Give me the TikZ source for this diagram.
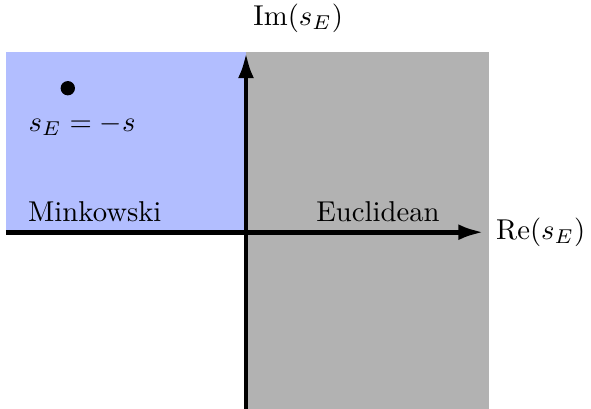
\documentclass[tikz,border=0pt]{standalone}
\usepackage{amsmath, amssymb, tikz}
\usetikzlibrary{positioning, arrows.meta}

\definecolor{minkblue}{RGB}{178,190,255}
\definecolor{euclgray}{RGB}{178,178,178}

\begin{document}
\begin{tikzpicture}[x=0.735cm, y=0.735cm,
    axis/.style={line width=1.7pt, -{Latex[length=9pt,width=5.5pt]}}]
    \useasboundingbox (-4.1,-2.93) rectangle (5.75,3.87);

    % Regions
    \fill[minkblue] (-4,0) rectangle (0,3);
    \fill[euclgray] (0,-3) rectangle (4.05,3);

    % Axes
    \coordinate (xstart) at (-4,0);
    \coordinate (xend) at (3.97,0);
    \coordinate (ystart) at (0,-3);
    \coordinate (yend) at (0,3);
    \draw[axis] (xstart) -- (xend) node[right] (relabel) {$\mathrm{Re}(s_E)$};
    \draw[axis] (ystart) -- (yend);
    \node (imlabel) at (0.87,3.57) {$\mathrm{Im}(s_E)$};

    % Point and region labels
    \node[circle, fill=black, inner sep=0pt, minimum size=5pt] (pt) at (-2.97,2.4) {};
    \node[below=3pt of pt, xshift=5pt] (ptlabel) {$s_E=-s$};
    \node (mink) at (-2.52,0.34) {Minkowski};
    \node (eucl) at (2.2,0.34) {Euclidean};
\end{tikzpicture}
\end{document}
